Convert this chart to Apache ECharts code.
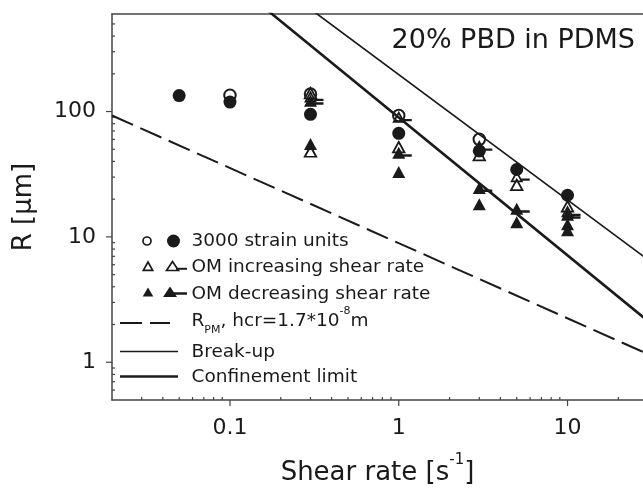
<!DOCTYPE html>
<html>
<head>
<meta charset="utf-8">
<script src="https://cdn.jsdelivr.net/npm/echarts@6.0.0/dist/echarts.min.js"></script>
<style>
  html, body { margin: 0; padding: 0; background: #fff; }
  #chartDom { width: 643px; height: 488px; }
</style>
</head>
<body>
<div id="chartDom"></div>
<script>
// axis ranges + ticks (log axes)
const xMin = 0.02, xMax = 28
const yMin = 0.5, yMax = 600
const xMajorTicks = [0.1, 1, 10]
const xMinorTicks = [0.03, 0.04, 0.05, 0.06, 0.07, 0.08, 0.09, 0.2, 0.3, 0.4, 0.5, 0.6, 0.7, 0.8, 0.9, 2, 3, 4, 5, 6, 7, 8, 9, 20]
const yMajorTicks = [1, 10, 100]
const yMinorTicks = [0.6, 0.7, 0.8, 0.9, 2, 3, 4, 5, 6, 7, 8, 9, 20, 30, 40, 50, 60, 70, 80, 90, 200, 300, 400, 500]

// 3000 strain units
const openCircleX = [0.1, 0.3, 1, 3]
const openCircleY = [135, 138, 93, 60]
const filledCircleX = [0.05, 0.1, 0.3, 1, 3, 5, 10]
const filledCircleY = [134, 119, 95, 67, 48.5, 34.5, 21.5]

// OM increasing shear rate
const incX = [0.3, 0.3, 1, 3, 5, 10]
const incY = [140, 48, 52, 45, 26, 17.5]
const incDashX = [0.3, 1, 3, 5, 10]
const incDashY = [132, 91, 53, 30.5, 16]

// OM decreasing shear rate
const decX = [0.3, 1, 3, 5, 10, 10]
const decY = [55, 33, 18.2, 13.1, 12.6, 11.3]
const decDashX = [0.3, 1, 3, 5, 10]
const decDashY = [122, 47, 24.5, 16.8, 15]

// model lines
const rpmX = [0.02, 30]
const rpmY = [93, 1.16]
const breakUpX = [0.2, 30]
const breakUpY = [985, 6.57]
const confX = [0.1, 30]
const confY = [1127, 2.13]

const font = 'DejaVu Sans'
const ink = '#1a1a1a'
const axisColor = '#444'
const legendFont = '18.5px "DejaVu Sans"'

function pairs(xs, ys) {
  return xs.map((x, i) => [x, ys[i]])
}

// triangle with a little bar to the right
const triDashFilled = 'path://M0 12 L6.5 0 L13 12 Z M6.5 7.5 L19.5 7.5 L19.5 10 L6.5 10 Z'
const triDashOpen = 'path://M0 12 L6.5 0 L13 12 Z M2.9 10.3 L10.1 10.3 L6.5 3.9 Z M10.5 8.4 L19.5 8.4 L19.5 10.6 L10.5 10.6 Z'

function tickSeries(values, isX, len) {
  return {
    type: 'custom',
    silent: true,
    data: values.map(v => isX ? [v, yMin] : [xMin, v]),
    renderItem: function (params, api) {
      const p = api.coord([api.value(0), api.value(1)])
      const shape = isX
        ? { x1: p[0], y1: p[1], x2: p[0], y2: p[1] + len }
        : { x1: p[0], y1: p[1], x2: p[0] - len, y2: p[1] }
      return { type: 'line', shape: shape, style: { stroke: axisColor, lineWidth: 1.2 } }
    }
  }
}

function majorLabel(list) {
  return function (v) {
    const t = list.find(t => Math.abs(t - v) / t < 1e-6)
    return t === undefined ? '' : String(t)
  }
}

const option = {
  animation: false,
  title: {
    text: '20% PBD in PDMS',
    right: 8,
    top: 27,
    padding: 0,
    textStyle: { fontFamily: font, fontSize: 27, fontWeight: 'normal', color: ink }
  },
  grid: { left: 112, right: 0, top: 14, bottom: 88, outerBoundsMode: 'none' },
  xAxis: [
    {
      type: 'log',
      position: 'bottom',
      min: xMin,
      max: xMax,
      axisLine: { lineStyle: { color: axisColor, width: 1.5 } },
      axisTick: { show: false },
      splitLine: { show: false },
      axisLabel: {
        margin: 17, fontFamily: font, fontSize: 22, color: ink,
        showMinLabel: false, showMaxLabel: false,
        formatter: majorLabel(xMajorTicks)
      },
      name: '{a|Shear rate [s}{sup|-1}{a|]}',
      nameLocation: 'middle',
      nameGap: 53,
      nameTextStyle: {
        rich: {
          a: { fontFamily: font, fontSize: 26, color: ink, lineHeight: 40 },
          sup: { fontFamily: font, fontSize: 15, color: ink, lineHeight: 15, verticalAlign: 'top' }
        }
      }
    },
    {
      type: 'log',
      position: 'top',
      min: xMin,
      max: xMax,
      axisLine: { lineStyle: { color: axisColor, width: 1.5 } },
      axisTick: { show: false },
      axisLabel: { show: false },
      splitLine: { show: false }
    }
  ],
  yAxis: {
    type: 'log',
    min: yMin,
    max: yMax,
    axisLine: { show: true, lineStyle: { color: axisColor, width: 1.5 } },
    axisTick: { show: false },
    splitLine: { show: false },
    axisLabel: {
      margin: 16, fontFamily: font, fontSize: 22, color: ink,
      showMinLabel: false, showMaxLabel: false,
      formatter: majorLabel(yMajorTicks)
    },
    name: 'R [μm]',
    nameLocation: 'middle',
    nameGap: 75,
    nameTextStyle: { fontFamily: font, fontSize: 26, color: ink }
  },
  series: [
    tickSeries(xMajorTicks, true, 6),
    tickSeries(xMinorTicks, true, -3),
    tickSeries(yMajorTicks, false, 6),
    tickSeries(yMinorTicks, false, -3),
    {
      name: 'R_PM',
      type: 'line',
      data: pairs(rpmX, rpmY),
      showSymbol: false,
      silent: true,
      lineStyle: { color: ink, width: 2, type: [23, 8] }
    },
    {
      name: 'Break-up',
      type: 'line',
      data: pairs(breakUpX, breakUpY),
      showSymbol: false,
      silent: true,
      lineStyle: { color: ink, width: 1.7 }
    },
    {
      name: 'Confinement limit',
      type: 'line',
      data: pairs(confX, confY),
      showSymbol: false,
      silent: true,
      lineStyle: { color: ink, width: 2.6 }
    },
    {
      name: '3000 strain units (open)',
      type: 'scatter',
      data: pairs(openCircleX, openCircleY),
      symbol: 'circle',
      symbolSize: 11.5,
      itemStyle: { color: '#fff', borderColor: ink, borderWidth: 2, opacity: 1 }
    },
    {
      name: 'OM increasing',
      type: 'scatter',
      data: pairs(incX, incY),
      symbol: 'triangle',
      symbolSize: [11.5, 10.5],
      itemStyle: { color: '#fff', borderColor: ink, borderWidth: 1.8, opacity: 1 }
    },
    {
      name: 'OM increasing (bar)',
      type: 'scatter',
      data: pairs(incDashX, incDashY),
      symbol: triDashOpen,
      symbolSize: [19.5, 12],
      symbolOffset: [3.25, 0],
      itemStyle: { color: ink, opacity: 1 }
    },
    {
      name: 'OM decreasing',
      type: 'scatter',
      data: pairs(decX, decY),
      symbol: 'triangle',
      symbolSize: [13, 12],
      itemStyle: { color: ink, opacity: 1 }
    },
    {
      name: 'OM decreasing (bar)',
      type: 'scatter',
      data: pairs(decDashX, decDashY),
      symbol: triDashFilled,
      symbolSize: [19.5, 12],
      symbolOffset: [3.25, 0],
      itemStyle: { color: ink, opacity: 1 }
    },
    {
      name: '3000 strain units (filled)',
      type: 'scatter',
      data: pairs(filledCircleX, filledCircleY),
      symbol: 'circle',
      symbolSize: 13,
      itemStyle: { color: ink, opacity: 1 }
    }
  ],
  // hand-made legend (two symbols per row)
  graphic: [
    { type: 'circle', shape: { cx: 147, cy: 241, r: 4 }, style: { fill: '#fff', stroke: ink, lineWidth: 1.7 } },
    { type: 'circle', shape: { cx: 173.5, cy: 241, r: 6.5 }, style: { fill: ink } },
    { type: 'polygon', shape: { points: [[143.3, 270.3], [148, 262], [152.7, 270.3]] }, style: { fill: '#fff', stroke: ink, lineWidth: 1.7 } },
    { type: 'polygon', shape: { points: [[166.5, 270.5], [172.5, 261.5], [178.5, 270.5]] }, style: { fill: '#fff', stroke: ink, lineWidth: 1.7 } },
    { type: 'line', shape: { x1: 176, y1: 268.8, x2: 187, y2: 268.8 }, style: { stroke: ink, lineWidth: 2 } },
    { type: 'polygon', shape: { points: [[142.7, 296.5], [148, 287.5], [153.3, 296.5]] }, style: { fill: ink } },
    { type: 'polygon', shape: { points: [[163, 297], [170, 286.5], [177, 297]] }, style: { fill: ink } },
    { type: 'line', shape: { x1: 170, y1: 293.5, x2: 187, y2: 293.5 }, style: { stroke: ink, lineWidth: 2.5 } },
    { type: 'line', shape: { x1: 120, y1: 323, x2: 170, y2: 323 }, style: { stroke: ink, lineWidth: 2, lineDash: [22, 8] } },
    { type: 'line', shape: { x1: 120, y1: 351.5, x2: 178, y2: 351.5 }, style: { stroke: ink, lineWidth: 1.7 } },
    { type: 'line', shape: { x1: 120, y1: 376.5, x2: 178, y2: 376.5 }, style: { stroke: ink, lineWidth: 2.6 } },
    { type: 'text', x: 191.5, y: 241, style: { text: '3000 strain units', font: legendFont, fill: ink, verticalAlign: 'middle' } },
    { type: 'text', x: 191.5, y: 267, style: { text: 'OM increasing shear rate', font: legendFont, fill: ink, verticalAlign: 'middle' } },
    { type: 'text', x: 191.5, y: 294, style: { text: 'OM decreasing shear rate', font: legendFont, fill: ink, verticalAlign: 'middle' } },
    {
      type: 'text', x: 191.5, y: 321,
      style: {
        text: '{a|R}{sub|PM}{a|, hcr=1.7*10}{sup|-8}{a|m}',
        verticalAlign: 'middle',
        rich: {
          a: { fontFamily: font, fontSize: 18.5, fill: ink, lineHeight: 30 },
          sub: { fontFamily: font, fontSize: 11, fill: ink, lineHeight: 11, verticalAlign: 'bottom' },
          sup: { fontFamily: font, fontSize: 11, fill: ink, lineHeight: 19, verticalAlign: 'top' }
        }
      }
    },
    { type: 'text', x: 191.5, y: 352, style: { text: 'Break-up', font: legendFont, fill: ink, verticalAlign: 'middle' } },
    { type: 'text', x: 191.5, y: 377, style: { text: 'Confinement limit', font: legendFont, fill: ink, verticalAlign: 'middle' } }
  ]
}

const myChart = echarts.init(document.getElementById('chartDom'))
myChart.setOption(option)
</script>
</body>
</html>
